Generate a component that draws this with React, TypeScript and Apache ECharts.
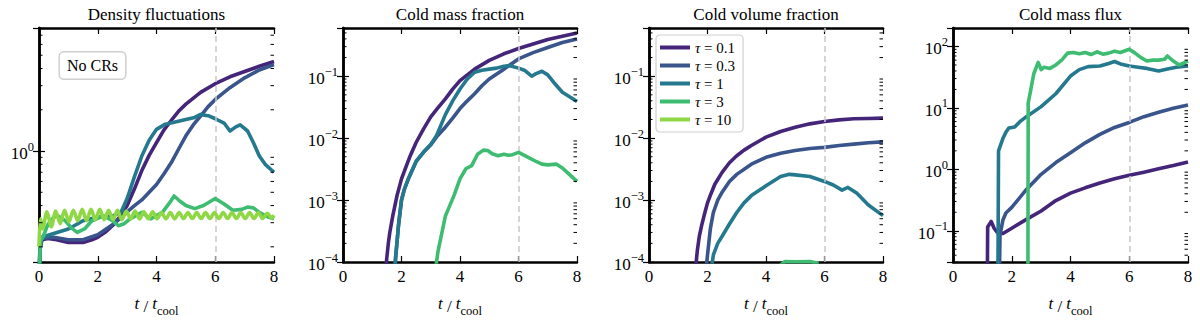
import React, { useEffect, useRef } from 'react';
import * as echarts from 'echarts';

const FONT = 'Liberation Serif';

const tauLabels = ['τ = 0.1', 'τ = 0.3', 'τ = 1', 'τ = 3', 'τ = 10'];
const tauColors = ['#45257a', '#3a548c', '#24798e', '#3dbc72', '#8fd744'];
const panelTitles = ['Density fluctuations', 'Cold mass fraction', 'Cold volume fraction', 'Cold mass flux'];
const refTime = 6;
const yMins = [0.155, 1e-4, 1e-4, 0.031];
const yMaxs = [7.9, 0.6, 0.6, 200];

type Pt = [number, number];

// Density fluctuations
const dens01: Pt[] = [[0,0.1],[0.03,0.19],[0.1,0.225],[0.3,0.23],[0.6,0.225],[1,0.215],[1.5,0.215],[1.8,0.225],[2,0.235],[2.25,0.255],[2.5,0.285],[2.75,0.33],[3,0.40],[3.25,0.53],[3.5,0.72],[3.75,0.93],[4,1.15],[4.25,1.42],[4.5,1.67],[4.75,1.95],[5,2.2],[5.5,2.68],[6,3.1],[6.5,3.48],[7,3.8],[7.5,4.15],[8,4.5]];
const dens03: Pt[] = [[0,0.1],[0.03,0.19],[0.1,0.23],[0.5,0.235],[1,0.225],[1.5,0.225],[2,0.245],[2.5,0.29],[2.75,0.32],[3,0.36],[3.25,0.40],[3.5,0.44],[3.75,0.5],[4,0.57],[4.25,0.68],[4.5,0.82],[4.75,1.03],[5,1.29],[5.25,1.55],[5.5,1.80],[5.75,2.1],[6,2.38],[6.5,2.9],[7,3.42],[7.5,3.9],[8,4.27]];
const dens1: Pt[] = [[0,0.1],[0.03,0.2],[0.1,0.235],[0.5,0.25],[1,0.27],[1.5,0.31],[2,0.33],[2.5,0.335],[2.8,0.36],[3,0.45],[3.25,0.65],[3.5,0.92],[3.75,1.2],[4,1.44],[4.3,1.57],[4.6,1.62],[5,1.70],[5.3,1.76],[5.5,1.85],[5.8,1.80],[6,1.72],[6.3,1.6],[6.5,1.40],[6.7,1.5],[6.85,1.55],[7.1,1.4],[7.3,1.15],[7.5,0.92],[7.7,0.8],[8,0.70]];
const dens3: Pt[] = [[0,0.12],[0.05,0.22],[0.15,0.24],[0.3,0.29],[0.5,0.33],[0.65,0.335],[0.9,0.31],[1.1,0.275],[1.3,0.255],[1.55,0.27],[1.8,0.31],[2.2,0.337],[2.5,0.31],[2.7,0.285],[2.9,0.295],[3.1,0.32],[3.5,0.357],[3.8,0.32],[4.2,0.357],[4.45,0.42],[4.6,0.47],[4.8,0.43],[5,0.40],[5.3,0.38],[5.6,0.40],[6,0.45],[6.3,0.41],[6.6,0.37],[6.9,0.375],[7.1,0.39],[7.3,0.385],[7.5,0.357],[7.8,0.33],[8,0.32]];
const dens10: Pt[] = [[0,0.2],[0.05,0.32],[0.12,0.27],[0.27,0.36],[0.42,0.28],[0.57,0.365],[0.72,0.295],[0.87,0.37],[1.02,0.305],[1.17,0.37],[1.32,0.31],[1.47,0.375],[1.62,0.31],[1.77,0.375],[1.92,0.315],[2.07,0.375],[2.22,0.315],[2.37,0.37],[2.52,0.315],[2.67,0.37],[2.82,0.315],[2.97,0.365],[3.12,0.32],[3.27,0.365],[3.42,0.32],[3.57,0.36],[3.72,0.32],[3.87,0.36],[4.02,0.32],[4.17,0.355],[4.32,0.32],[4.47,0.355],[4.62,0.32],[4.77,0.355],[4.92,0.322],[5.07,0.355],[5.22,0.322],[5.37,0.355],[5.52,0.322],[5.67,0.355],[5.82,0.322],[5.97,0.355],[6.12,0.322],[6.27,0.355],[6.42,0.322],[6.57,0.355],[6.72,0.322],[6.87,0.355],[7.02,0.322],[7.17,0.355],[7.32,0.322],[7.47,0.355],[7.62,0.322],[7.77,0.352],[7.92,0.325],[8,0.34]];

// Cold mass fraction
const mass01: Pt[] = [[1.42,5e-5],[1.5,1.2e-4],[1.55,2e-4],[1.6,3e-4],[1.7,5.5e-4],[1.85,1.2e-3],[2,2.2e-3],[2.15,3.4e-3],[2.3,5.2e-3],[2.5,8.5e-3],[2.75,0.014],[3,0.022],[3.25,0.031],[3.5,0.043],[3.75,0.062],[4,0.085],[4.5,0.13],[5,0.18],[5.5,0.23],[6,0.28],[6.5,0.33],[7,0.39],[7.5,0.44],[8,0.50]];
const mass03: Pt[] = [[1.74,5e-5],[1.8,1.2e-4],[1.9,4e-4],[2,1.0e-3],[2.1,1.5e-3],[2.25,2.3e-3],[2.5,4.2e-3],[2.75,5.9e-3],[3,7.8e-3],[3.2,0.0105],[3.5,0.015],[3.75,0.021],[4,0.030],[4.25,0.04],[4.5,0.052],[4.75,0.07],[5,0.09],[5.5,0.13],[6,0.19],[6.5,0.24],[7,0.29],[7.5,0.35],[8,0.40]];
const mass1: Pt[] = [[1.74,5e-5],[1.8,1.2e-4],[1.9,4e-4],[2,1.0e-3],[2.1,1.5e-3],[2.25,2.3e-3],[2.5,4.2e-3],[2.75,5.9e-3],[3,7.9e-3],[3.2,0.011],[3.5,0.024],[3.75,0.04],[4,0.062],[4.25,0.09],[4.5,0.116],[4.75,0.125],[5,0.13],[5.25,0.135],[5.5,0.145],[5.7,0.148],[6,0.135],[6.2,0.125],[6.45,0.10],[6.6,0.11],[6.8,0.12],[7,0.105],[7.2,0.08],[7.5,0.055],[7.8,0.045],[8,0.039]];
const mass3: Pt[] = [[3.15,7e-5],[3.25,1.5e-4],[3.5,5.5e-4],[3.8,1.2e-3],[4,2.2e-3],[4.2,3.2e-3],[4.4,3.6e-3],[4.6,5.5e-3],[4.8,6.4e-3],[4.95,6.3e-3],[5.1,5.6e-3],[5.3,5.2e-3],[5.5,5.5e-3],[5.65,5.3e-3],[5.8,5.4e-3],[6,5.9e-3],[6.3,5.0e-3],[6.6,4.2e-3],[6.8,3.8e-3],[7,3.7e-3],[7.3,3.8e-3],[7.5,3.3e-3],[7.7,2.7e-3],[8,2.0e-3]];

// Cold volume fraction
const vol01: Pt[] = [[1.57,6e-5],[1.65,1.5e-4],[1.72,2.6e-4],[1.8,3.9e-4],[1.9,6e-4],[2,9e-4],[2.1,1.2e-3],[2.25,1.8e-3],[2.5,2.8e-3],[2.75,4e-3],[3,5.2e-3],[3.25,6.4e-3],[3.5,7.6e-3],[4,0.0104],[4.5,0.0128],[5,0.015],[5.5,0.017],[6,0.0186],[6.5,0.0197],[7,0.0205],[7.5,0.0208],[8,0.021]];
const vol03: Pt[] = [[1.93,6e-5],[2,1.3e-4],[2.1,3.5e-4],[2.2,6.3e-4],[2.35,1e-3],[2.5,1.34e-3],[2.75,2e-3],[3,2.6e-3],[3.5,3.8e-3],[4,4.9e-3],[4.5,5.7e-3],[5,6.3e-3],[5.5,6.8e-3],[6,7.1e-3],[6.5,7.6e-3],[7,8e-3],[7.5,8.4e-3],[8,8.7e-3]];
const vol1: Pt[] = [[2.12,7e-5],[2.2,1.3e-4],[2.35,2e-4],[2.5,2.6e-4],[2.75,4.1e-4],[3,6.3e-4],[3.25,9e-4],[3.5,1.18e-3],[4,1.7e-3],[4.5,2.4e-3],[4.8,2.6e-3],[5,2.55e-3],[5.5,2.4e-3],[6,2.0e-3],[6.3,1.75e-3],[6.6,1.45e-3],[6.8,1.6e-3],[7.1,1.3e-3],[7.5,8.3e-4],[8,5.6e-4]];
const vol3: Pt[] = [[4.5,9e-5],[4.65,1.02e-4],[5,1.01e-4],[5.5,1.02e-4],[5.8,9.5e-5]];

// Cold mass flux
const flux01: Pt[] = [[1.17,0.02],[1.18,0.115],[1.3,0.142],[1.4,0.11],[1.5,0.095],[1.7,0.09],[2,0.11],[2.5,0.153],[3,0.21],[3.5,0.31],[4,0.41],[4.5,0.5],[5,0.6],[5.5,0.7],[6,0.8],[6.5,0.9],[7,1.02],[7.5,1.15],[8,1.32]];
const flux03: Pt[] = [[1.58,0.02],[1.6,0.085],[1.7,0.15],[1.8,0.195],[2,0.24],[2.5,0.47],[3,0.83],[3.5,1.29],[4,1.87],[4.5,2.7],[5,3.7],[5.5,4.8],[6,5.8],[6.5,7.2],[7,8.5],[7.5,9.9],[8,11.2]];
const flux1: Pt[] = [[1.53,0.02],[1.55,2.0],[1.7,3.2],[1.8,4.0],[1.9,4.7],[2.1,4.9],[2.3,6.1],[2.5,7.2],[3,10.5],[3.5,17],[4,33],[4.3,42],[4.6,47],[5,48],[5.3,53],[5.5,57],[5.7,52],[6,48],[6.3,46],[6.6,44],[7,40],[7.3,43],[7.6,46],[8,48]];
const flux3: Pt[] = [[2.55,0.02],[2.56,12],[2.65,20],[2.75,36],[2.9,55],[3.0,42],[3.1,46],[3.3,44],[3.5,50],[3.7,60],[3.9,78],[4.1,80],[4.3,76],[4.5,80],[4.7,74],[4.9,82],[5.1,75],[5.3,78],[5.5,84],[5.7,80],[6,90],[6.2,78],[6.4,66],[6.6,58],[6.8,60],[7,60],[7.2,62],[7.3,70],[7.5,58],[7.7,50],[8,58]];

const panelSeries: (Pt[] | null)[][] = [
  [dens01, dens03, dens1, dens3, dens10],
  [mass01, mass03, mass1, mass3, null],
  [vol01, vol03, vol1, vol3, null],
  [flux01, flux03, flux1, flux3, null],
];
// only the fast-oscillating curve is smoothed
const smoothCurve = [false, false, false, false, true];

const grids = [
  { left: 39, top: 28, width: 235, height: 235 },
  { left: 343, top: 28, width: 234, height: 235 },
  { left: 649, top: 28, width: 234, height: 235 },
  { left: 953, top: 28, width: 235, height: 235 },
];

function minorTicks(min: number, max: number): number[] {
  const out: number[] = [];
  for (let e = Math.floor(Math.log10(min)); e <= Math.ceil(Math.log10(max)); e++) {
    for (let m = 2; m <= 9; m++) {
      const v = m * Math.pow(10, e);
      if (v > min * 1.0001 && v < max * 0.9999) out.push(v);
    }
  }
  return out;
}

function logLabel(v: number): string {
  const e = Math.log10(v);
  const r = Math.round(e);
  if (Math.abs(e - r) > 1e-6) return '';
  const s = r < 0 ? '−' + String(-r) : String(r);
  return '{b|10}{s|' + s + '}';
}

const App: React.FC = () => {
  const ref = useRef<HTMLDivElement>(null);
  useEffect(() => {
    if (!ref.current) return;
    const chart = echarts.init(ref.current, undefined, { renderer: 'svg' });
    const axisLine = { show: true, lineStyle: { color: '#000', width: 2.5 } };
    const tick = { inside: true, length: 6, lineStyle: { color: '#000', width: 1.2 } };
    const xAxes: any[] = [];
    const yAxes: any[] = [];
    const series: any[] = [];
    grids.forEach((g, i) => {
      xAxes.push({
        type: 'value', gridIndex: i, min: 0, max: 8, interval: 2, position: 'bottom',
        axisLine, splitLine: { show: false }, axisTick: tick,
        axisLabel: { fontFamily: FONT, fontSize: 17, color: '#000', margin: 6 },
        name: '{i|t} / {i|t}{sub|cool}', nameLocation: 'middle', nameGap: 33,
        nameTextStyle: {
          fontFamily: FONT, fontSize: 17, color: '#000',
          rich: {
            i: { fontFamily: FONT, fontSize: 17, fontStyle: 'italic', color: '#000', lineHeight: 22, verticalAlign: 'top' },
            sub: { fontFamily: FONT, fontSize: 12.5, color: '#000', lineHeight: 10, verticalAlign: 'bottom' },
          },
        },
      });
      yAxes.push({
        type: 'log', logBase: 10, gridIndex: i, min: yMins[i], max: yMaxs[i], position: 'left',
        axisLine, splitLine: { show: false }, minorTick: { show: false }, axisTick: tick,
        axisLabel: {
          formatter: logLabel, margin: 5, color: '#000',
          rich: {
            b: { fontFamily: FONT, fontSize: 17, color: '#000', lineHeight: 22, verticalAlign: 'bottom' },
            s: { fontFamily: FONT, fontSize: 12.5, color: '#000', lineHeight: 12, verticalAlign: 'top' },
          },
        },
      });
    });
    grids.forEach((g, i) => {
      xAxes.push({
        type: 'value', gridIndex: i, min: 0, max: 8, interval: 2, position: 'top',
        axisLine, splitLine: { show: false }, axisLabel: { show: false }, axisTick: tick,
      });
      yAxes.push({
        type: 'log', logBase: 10, gridIndex: i, min: yMins[i], max: yMaxs[i], position: 'right',
        axisLine, splitLine: { show: false }, axisLabel: { show: false }, axisTick: tick,
      });
    });

    grids.forEach((g, i) => {
      series.push({
        type: 'line', name: 'ref' + i, xAxisIndex: i, yAxisIndex: i, data: [], z: 1, silent: true,
        markLine: {
          silent: true, symbol: ['none', 'none'], label: { show: false },
          lineStyle: { color: '#c8c8c8', type: [6, 4], width: 1.5 },
          data: [{ xAxis: refTime }],
        },
      });
      panelSeries[i].forEach((d, k) => {
        if (!d) return;
        series.push({
          type: 'line', name: tauLabels[k], xAxisIndex: i, yAxisIndex: i, data: d,
          showSymbol: false, symbol: 'none', z: 2 + k, clip: true,
          smooth: smoothCurve[k] ? 0.3 : false,
          lineStyle: { color: tauColors[k], width: 3.6, cap: 'butt', join: 'round' },
          itemStyle: { color: tauColors[k] },
        });
      });
      const minors = minorTicks(yMins[i], yMaxs[i]);
      series.push({
        type: 'custom', name: 'minor' + i, xAxisIndex: i, yAxisIndex: i, silent: true, z: 20, clip: false,
        data: minors.map((v) => [0, v]),
        renderItem: (params: any, api: any) => {
          const v = api.value(1);
          const l = api.coord([0, v]);
          const r = api.coord([8, v]);
          return {
            type: 'group',
            children: [
              { type: 'line', shape: { x1: l[0], y1: l[1], x2: l[0] + 3.5, y2: l[1] }, style: { stroke: '#000', lineWidth: 1 } },
              { type: 'line', shape: { x1: r[0] - 3.5, y1: r[1], x2: r[0], y2: r[1] }, style: { stroke: '#000', lineWidth: 1 } },
            ],
          };
        },
      });
    });

    const graphics: any[] = grids.map((g, i) => ({
      type: 'text', x: g.left + g.width / 2, y: 14,
      style: {
        text: panelTitles[i], fontFamily: FONT, fontSize: 17, fontWeight: 'normal',
        fill: '#000', align: 'center', verticalAlign: 'middle',
      },
    }));
    graphics.push({
      type: 'text', x: 92.5, y: 65.5, z: 30,
      style: {
        text: 'No CRs', fontFamily: FONT, fontSize: 16, fontWeight: 'normal',
        fill: '#000', align: 'center', verticalAlign: 'middle',
        backgroundColor: '#fff', borderColor: '#cfcfcf', borderWidth: 1.5, borderRadius: 4, padding: [5, 7, 5, 7],
      },
    });

    chart.setOption({
      animation: false,
      backgroundColor: '#fff',
      grid: grids.map((g) => ({ ...g, containLabel: false })),
      xAxis: xAxes,
      yAxis: yAxes,
      legend: {
        data: tauLabels, orient: 'vertical', left: 656, top: 35, selectedMode: false,
        icon: 'rect', itemWidth: 30, itemHeight: 4, itemGap: 3,
        backgroundColor: 'rgba(255,255,255,0.85)', borderColor: '#cfcfcf', borderWidth: 1.2, borderRadius: 4,
        padding: [5, 8, 5, 4],
        formatter: (name: string) => '{i|τ}{n|' + name.slice(1) + '}',
        textStyle: {
          fontFamily: FONT, fontSize: 15, color: '#000',
          rich: {
            i: { fontFamily: FONT, fontSize: 15, fontStyle: 'italic', color: '#000' },
            n: { fontFamily: FONT, fontSize: 15, color: '#000' },
          },
        },
      },
      graphic: graphics,
      series,
    });
    return () => chart.dispose();
  }, []);
  return <div ref={ref} style={{ position: 'fixed', left: 0, top: 0, width: 1200, height: 322 }} />;
};

export default App;
